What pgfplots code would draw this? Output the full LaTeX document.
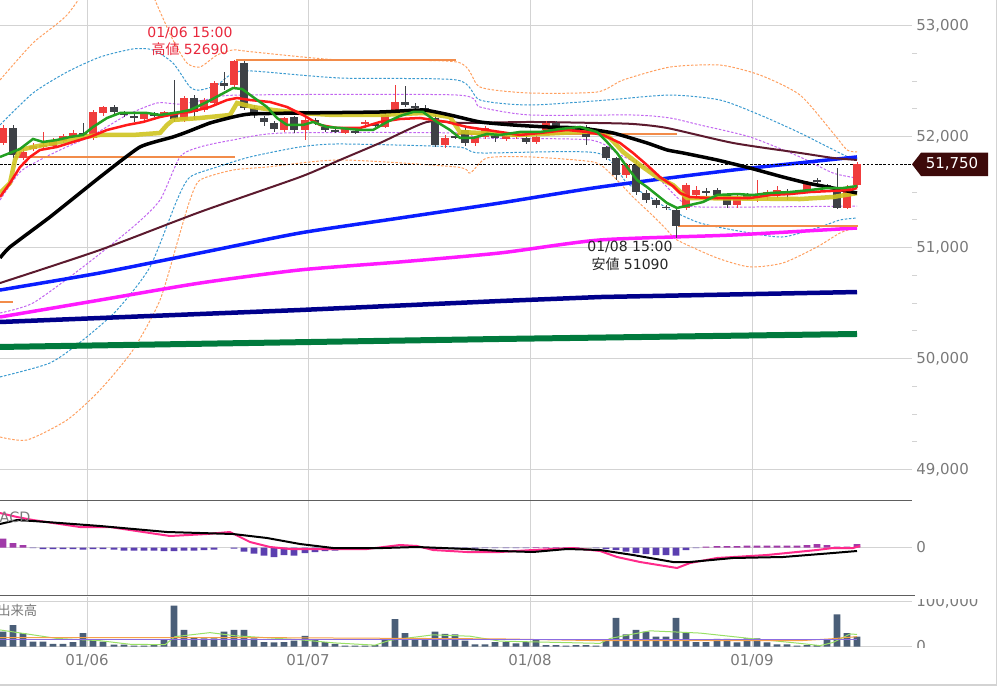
\documentclass[border=0pt]{standalone}
\usepackage{pgfplots}
\usepackage{pgfplotstable}
\pgfplotsset{compat=1.18}
\usepackage{fontspec}
\setmainfont{DejaVu Sans}
\newfontfamily\jp{Noto Sans CJK JP}

\definecolor{cup}{HTML}{F03C3C}
\definecolor{cdn}{HTML}{3E4146}
\definecolor{magrn}{HTML}{22A022}
\definecolor{mared}{HTML}{FF1A1A}
\definecolor{mayel}{HTML}{CFC420}
\definecolor{mamar}{HTML}{5C1A2E}
\definecolor{mablu}{HTML}{0A1EFF}
\definecolor{mamag}{HTML}{FF1AFF}
\definecolor{manav}{HTML}{00008B}
\definecolor{madkg}{HTML}{007A3D}
\definecolor{bbvio}{HTML}{C266F0}
\definecolor{bbblu}{HTML}{3A9AD0}
\definecolor{bbora}{HTML}{FFA060}
\definecolor{hlora}{HTML}{F28C4A}
\definecolor{macdp}{HTML}{FF2A8A}
\definecolor{histn}{HTML}{5B3FB0}
\definecolor{histp}{HTML}{A03AA8}
\definecolor{volc}{HTML}{4A5E78}
\definecolor{vgrn}{HTML}{99E066}
\definecolor{vora}{HTML}{F5A04A}
\definecolor{vpur}{HTML}{8C6CE0}
\definecolor{gridc}{HTML}{D3D3D3}
\definecolor{labc}{HTML}{7A7A7A}
\definecolor{sepc}{HTML}{5E5E5E}
\definecolor{boxc}{HTML}{3D0A0A}
\definecolor{annred}{HTML}{E8283C}

% candles: x, body top, body bottom, wick high, wick low
\pgfplotstableread{
x bt bb wh wl
3 52080 51940 52100 51920
23 51860 51810 51900 51790
33 51920 51890 51940 51870
43 51920 51910 52040 51880
53 51970 51920 51990 51910
63 52010 51960 52020 51940
73 52030 52010 52060 51990
93 52220 51990 52240 51970
103 52270 52210 52280 52190
144 52200 52160 52210 52140
164 52220 52190 52230 52180
184 52350 52150 52370 52130
204 52330 52240 52350 52220
214 52480 52300 52500 52290
234 52680 52460 52690 52450
284 52170 52060 52180 52040
305 52150 52060 52170 51970
345 52070 52030 52090 52020
365 52130 52110 52150 52080
385 52190 52090 52210 52080
395 52310 52220 52460 52210
445 51990 51920 52010 51900
475 52000 51940 52010 51920
485 52080 52000 52100 51980
506 52010 51980 52020 51960
516 52020 52000 52040 51980
536 52000 51950 52010 51930
546 52120 52060 52140 52040
626 51740 51650 51760 51630
686 51560 51360 51580 51340
696 51520 51470 51550 51450
737 51450 51380 51470 51360
757 51460 51450 51610 51410
767 51500 51470 51520 51430
777 51520 51490 51550 51450
807 51580 51520 51600 51500
847 51550 51360 51560 51350
857 51750 51560 51770 51540
}\up

\pgfplotstableread{
x bt bb wh wl
13 52080 51830 52100 51810
83 52030 52020 52120 51990
114 52270 52220 52280 52200
124 52220 52190 52230 52180
134 52190 52170 52200 52130
154 52210 52190 52220 52180
174 52220 52160 52510 52130
194 52350 52220 52370 52150
224 52480 52460 52580 52420
244 52660 52260 52680 52240
254 52260 52190 52280 52170
264 52170 52130 52190 52100
274 52120 52070 52140 52040
294 52180 52060 52190 52030
315 52150 52120 52170 52100
325 52090 52060 52100 52040
335 52060 52050 52080 52030
355 52050 52030 52060 52020
375 52110 52100 52120 52090
405 52310 52280 52460 52270
415 52280 52260 52300 52240
425 52260 52230 52280 52210
435 52170 51920 52190 51910
455 52010 51990 52010 51980
465 52060 51940 52080 51920
495 52010 51990 52030 51950
526 51990 51950 52010 51930
556 52120 52080 52140 52060
566 52090 52070 52100 52050
576 52070 52050 52080 52040
586 52090 52000 52100 51920
596 52040 52020 52050 52010
606 51910 51810 51920 51790
616 51810 51650 51820 51610
636 51740 51500 51790 51470
646 51490 51430 51520 51400
656 51430 51380 51450 51360
666 51370 51360 51380 51340
676 51340 51190 51360 51090
706 51510 51490 51540 51460
717 51520 51470 51540 51430
727 51470 51380 51490 51360
747 51470 51450 51490 51430
787 51510 51490 51530 51430
797 51510 51490 51520 51480
817 51610 51590 51630 51570
827 51560 51540 51570 51540
837 51500 51360 51720 51350
}\dn

\pgfplotstableread{
x v
3 90
13 45
23 25
365 5
375 5
385 5
395 10
405 10
415 5
536 5
546 5
556 5
566 5
576 5
706 10
717 15
727 15
737 15
747 20
757 20
767 20
777 20
787 20
797 20
807 25
817 35
827 25
837 10
847 10
857 35
}\histpos

\pgfplotstableread{
x v
33 -5
43 -15
53 -15
63 -15
73 -15
83 -20
93 -15
103 -15
114 -20
124 -30
134 -30
144 -30
154 -30
164 -35
174 -35
184 -30
194 -30
204 -25
214 -20
234 -10
244 -40
254 -60
264 -80
274 -95
284 -75
294 -80
305 -55
315 -45
325 -35
335 -30
345 -10
355 -5
425 -5
435 -10
445 -15
455 -15
465 -10
475 -10
485 -5
495 -5
506 -5
516 -5
526 -5
596 -5
606 -15
616 -25
626 -40
636 -55
646 -65
656 -75
666 -75
676 -80
686 -25
696 -5
}\histneg

\pgfplotstableread{
x v
3 33000
13 48000
23 30000
33 11000
43 11000
53 6000
63 6000
73 10000
83 30000
93 15000
103 11000
114 4000
124 4000
134 2000
144 2000
154 3000
164 15000
174 91000
184 37000
194 21000
204 18000
214 18000
224 33000
234 37000
244 37000
254 18000
264 10000
274 9000
284 10000
294 13000
305 24000
315 15000
325 10000
335 6000
345 2000
355 2000
365 2000
375 3000
385 15000
395 61000
405 30000
415 18000
425 18000
435 33000
445 28000
455 27000
465 13000
475 5000
485 5000
495 10000
506 10000
516 7000
526 10000
536 15000
546 3000
556 3000
566 2000
576 3000
586 3000
596 2000
606 13000
616 64000
626 27000
636 37000
646 33000
656 22000
666 22000
676 64000
686 30000
696 10000
706 10000
717 17000
727 17000
737 9000
747 18000
757 18000
767 9000
777 5000
787 5000
797 2000
807 3000
817 3000
827 15000
837 72000
847 30000
857 22000
}\vol

\pgfplotsset{
  panel/.style={
    scale only axis, width=547.2pt, xmin=0, xmax=912,
    axis line style={draw=none},
    scaled y ticks=false, scaled x ticks=false,
    xtick={87,308,530,752}, xticklabels={},
    xmajorgrids, ymajorgrids,
    grid style={draw=gridc, line width=0.6pt},
    major tick length=0pt,
    ytick pos=right, yticklabel pos=right,
    yticklabel style={anchor=west, inner sep=0pt, xshift=2.4pt,
      font=\fontsize{9}{10}\selectfont, text=labc},
    xticklabel style={anchor=north, inner sep=0pt, yshift=-4.5pt,
      font=\fontsize{9}{10}\selectfont, text=labc},
  },
  band/.style={line width=0.6pt, dash pattern=on 1.5pt off 1pt, smooth, tension=0.4},
  wick/.style={draw=none, no markers, error bars/.cd, y dir=both, y explicit,
    error mark=none, error bar style={draw=#1, line width=0.6pt}},
  body/.style={draw=none, no markers, error bars/.cd, y dir=both, y explicit,
    error mark=none, error bar style={draw=#1, line width=5pt, line cap=butt}},
}

\begin{document}
\begin{tikzpicture}
\useasboundingbox (0pt,0pt) rectangle (600pt,-412.2pt);

% ---------------- price panel ----------------
\begin{axis}[panel, at={(0pt,0pt)}, anchor=north west, height=300.42pt,
  ymin=48719, ymax=53230,
  ytick={49000,50000,51000,52000,53000},
  yticklabels={{49,000},{50,000},{51,000},{52,000},{53,000}},
  minor ytick={49250,49500,49750,50250,50500,50750,51250,51500,51750,52250,52500,52750},
  tick align=outside, minor tick length=3pt,
  minor tick style={draw=gridc, line width=0.6pt}]

% bollinger bands
\addplot[band, bbora] coordinates {(0,52509)(33,52843)(67,53095)(100,53500)(133,53725)(155,53230)(173,52870)(187,52662)(200,52626)(217,52734)(233,52780)(253,52762)(340,52689)(457,52671)(480,52446)(530,52392)(597,52401)(623,52509)(670,52626)(720,52644)(760,52554)(800,52374)(833,52032)(847,51879)(857,51861)};
\addplot[band, bbora] coordinates {(0,49293)(27,49266)(67,49446)(100,49716)(133,50077)(160,50527)(180,51131)(190,51428)(200,51608)(233,51698)(267,51725)(340,51789)(457,51725)(470,51671)(487,51807)(530,51816)(593,51771)(610,51671)(633,51455)(650,51311)(667,51158)(677,51068)(717,50906)(750,50825)(783,50861)(817,51005)(840,51131)(857,51185)};
\addplot[band, bbblu] coordinates {(0,52104)(33,52392)(67,52581)(100,52716)(133,52789)(153,52780)(173,52662)(190,52446)(200,52419)(217,52464)(233,52572)(253,52590)(340,52527)(457,52509)(480,52329)(530,52284)(607,52329)(670,52374)(720,52329)(760,52194)(800,52032)(850,51807)(857,51807)};
\addplot[band, bbblu] coordinates {(0,49834)(50,49960)(83,50167)(117,50437)(150,50825)(177,51428)(190,51635)(217,51725)(250,51816)(300,51906)(340,51933)(457,51906)(480,51852)(597,51852)(627,51581)(650,51455)(667,51356)(700,51221)(750,51131)(783,51095)(817,51176)(840,51248)(857,51266)};
\addplot[band, bbvio] coordinates {(0,51428)(20,51680)(40,51789)(60,51879)(93,52014)(127,52194)(157,52302)(180,52293)(210,52338)(240,52374)(457,52374)(480,52266)(530,52194)(633,52194)(670,52167)(700,52104)(750,51996)(800,51816)(833,51671)(857,51626)};
\addplot[band, bbvio] coordinates {(0,50410)(33,50500)(83,50825)(133,51185)(160,51428)(180,51816)(200,51906)(233,51969)(283,52032)(457,52032)(480,51987)(590,51969)(620,51834)(650,51698)(680,51428)(700,51365)(857,51374)};

% long moving averages
\addplot[madkg, line width=3.6pt] coordinates {(0,50104)(500,50176)(857,50221)};
\addplot[manav, line width=2.7pt] coordinates {(0,50329)(100,50365)(300,50437)(500,50518)(600,50554)(857,50599)};
\addplot[mamag, line width=2.1pt, smooth, tension=0.4] coordinates {(0,50374)(100,50527)(200,50680)(300,50798)(400,50870)(500,50951)(600,51068)(733,51113)(857,51176)};
\addplot[mablu, line width=2.1pt, smooth, tension=0.4] coordinates {(0,50617)(100,50771)(200,50951)(300,51131)(400,51266)(500,51401)(600,51545)(733,51698)(857,51816)};
\addplot[mamar, line width=1.2pt, smooth, tension=0.4] coordinates {(0,50680)(100,50978)(200,51320)(300,51635)(340,51789)(380,51942)(427,52131)(463,52122)(530,52131)(597,52122)(633,52113)(667,52077)(733,51942)(800,51852)(833,51807)(857,51789)};

% previous session high / low
\addplot[hlora, line width=1.2pt] coordinates {(0,50510)(13,50510)};
\addplot[hlora, line width=1.2pt] coordinates {(15,51820)(235,51820)};
\addplot[hlora, line width=1.2pt] coordinates {(236,52690)(456,52690)};
\addplot[hlora, line width=1.2pt] coordinates {(457,52020)(677,52020)};
\addplot[hlora, line width=1.2pt] coordinates {(678,51190)(858,51190)};

% last price
\addplot[black, line width=0.6pt, dash pattern=on 1.5pt off 1pt] coordinates {(0,51750)(912,51750)};

% candles: wicks then bodies
\addplot[wick=cup] table[x=x, y expr={(\thisrow{wh}+\thisrow{wl})/2}, y error expr={(\thisrow{wh}-\thisrow{wl})/2}] {\up};
\addplot[wick=cdn] table[x=x, y expr={(\thisrow{wh}+\thisrow{wl})/2}, y error expr={(\thisrow{wh}-\thisrow{wl})/2}] {\dn};
\addplot[body=cup] table[x=x, y expr={(\thisrow{bt}+\thisrow{bb})/2}, y error expr={(\thisrow{bt}-\thisrow{bb})/2}] {\up};
\addplot[body=cdn] table[x=x, y expr={(\thisrow{bt}+\thisrow{bb})/2}, y error expr={(\thisrow{bt}-\thisrow{bb})/2}] {\dn};

% short moving averages
\addplot[mayel, line width=2.7pt, opacity=0.9] coordinates {(0,51491)(10,51581)(15,51789)(20,51879)(33,51906)(60,51951)(83,51996)(100,52014)(133,52014)(160,52032)(167,52104)(173,52149)(200,52167)(230,52194)(237,52302)(253,52266)(273,52239)(300,52212)(333,52194)(380,52194)(423,52212)(450,52176)(460,52041)(520,52014)(560,52032)(597,52050)(610,51987)(623,51861)(640,51743)(657,51635)(673,51563)(687,51446)(800,51437)(833,51455)(857,51490)};
\addplot[black, line width=2.1pt, smooth, tension=0.3] coordinates {(0,50906)(10,51005)(50,51275)(100,51635)(140,51906)(173,51996)(187,52041)(210,52122)(233,52176)(250,52203)(300,52212)(380,52221)(423,52239)(450,52194)(480,52131)(513,52104)(547,52086)(580,52077)(613,52032)(647,51942)(667,51879)(683,51852)(717,51789)(750,51716)(783,51635)(807,51581)(833,51536)(857,51491)};
\addplot[mared, line width=1.5pt] coordinates {(0,51455)(10,51581)(20,51725)(30,51816)(40,51879)(57,51906)(73,51951)(90,51996)(107,52059)(127,52104)(143,52131)(160,52176)(180,52212)(190,52221)(210,52266)(227,52329)(237,52347)(250,52329)(270,52311)(287,52266)(303,52194)(320,52104)(337,52077)(360,52077)(380,52131)(400,52158)(420,52167)(433,52149)(447,52131)(467,52086)(487,52059)(520,52014)(540,52032)(567,52059)(587,52041)(603,52014)(620,51942)(633,51852)(647,51743)(660,51635)(673,51554)(680,51491)(690,51455)(710,51446)(750,51446)(770,51473)(790,51482)(810,51500)(830,51509)(850,51518)(857,51536)};
\addplot[magrn, line width=1.5pt] coordinates {(0,51816)(20,51888)(33,51978)(43,51951)(57,51969)(70,51996)(83,52014)(93,52086)(107,52167)(120,52212)(147,52212)(160,52194)(180,52221)(190,52239)(207,52311)(220,52374)(233,52437)(242,52428)(253,52356)(267,52266)(277,52167)(287,52104)(303,52104)(313,52131)(327,52086)(340,52077)(360,52059)(373,52059)(387,52131)(400,52185)(413,52221)(423,52221)(437,52131)(450,52059)(460,51987)(473,51987)(487,52023)(500,52014)(520,52041)(540,52041)(560,52068)(580,52086)(597,52041)(607,51951)(617,51852)(627,51725)(637,51608)(647,51545)(657,51473)(667,51401)(677,51356)(690,51383)(703,51410)(717,51473)(737,51482)(753,51473)(770,51491)(790,51500)(810,51518)(827,51536)(843,51536)(857,51554)};

% high / low annotations
\node[text=annred, font=\fontsize{8.4}{9}\selectfont, inner sep=0pt] at (axis cs:190,52933) {01/06 15:00};
\node[text=annred, font=\fontsize{8.4}{9}\selectfont, inner sep=0pt] at (axis cs:190,52789) {{\jp 高値} 52690};
\node[text=black!85, font=\fontsize{8.4}{9}\selectfont, inner sep=0pt] at (axis cs:630,51005) {01/08 15:00};
\node[text=black!85, font=\fontsize{8.4}{9}\selectfont, inner sep=0pt] at (axis cs:630,50852) {{\jp 安値} 51090};
\end{axis}

% ---------------- MACD panel ----------------
\begin{axis}[panel, at={(0pt,-300.6pt)}, anchor=north west, height=56.64pt,
  ymin=-479, ymax=465, ytick={0}, yticklabels={0}]
\addplot[ybar, bar shift=0pt, bar width=4pt, fill=histp, draw=none] table[x=x, y=v] {\histpos};
\addplot[ybar, bar shift=0pt, bar width=4pt, fill=histn, draw=none] table[x=x, y=v] {\histneg};
\addplot[macdp, line width=1.2pt] coordinates {(0,345)(17,305)(33,275)(80,205)(110,205)(170,115)(207,135)(230,155)(250,55)(270,5)(290,-15)(367,-15)(400,25)(417,15)(433,-25)(467,-45)(500,-45)(533,-25)(573,-5)(600,-35)(617,-95)(640,-145)(677,-205)(690,-155)(717,-105)(767,-75)(817,-25)(833,-5)(853,-5)(860,15)};
\addplot[black, line width=1.2pt] coordinates {(0,235)(17,275)(33,265)(100,215)(167,155)(233,135)(267,95)(300,35)(333,-5)(383,-5)(417,5)(467,-15)(500,-35)(533,-45)(567,-15)(600,-25)(633,-75)(673,-145)(690,-145)(733,-105)(783,-95)(833,-55)(857,-35)};
\end{axis}

% ---------------- volume panel ----------------
\begin{axis}[panel, at={(0pt,-358.2pt)}, anchor=north west, height=30pt,
  ymin=-1100, ymax=110500, ytick={0,100000}, yticklabels={0,{100,000}},
  xticklabels={01/06,01/07,01/08,01/09}]
\addplot[ybar, bar shift=0pt, bar width=4pt, fill=volc, draw=none] table[x=x, y=v] {\vol};
\addplot[vgrn, line width=0.6pt] coordinates {(0,37000)(57,18000)(100,13000)(130,5000)(165,4000)(175,22000)(210,31000)(235,24000)(300,15000)(335,8000)(375,3000)(390,14000)(433,26000)(470,23000)(500,12000)(600,7000)(610,18000)(650,35000)(700,30000)(750,18000)(800,7000)(820,2000)(833,9000)(850,28000)(857,27000)};
\addplot[vora, line width=0.6pt] coordinates {(0,20000)(250,20000)(500,17000)(600,13000)(800,13000)(830,17000)(857,22000)};
\addplot[vpur, line width=0.6pt] coordinates {(0,16000)(857,16000)};
\end{axis}

\begin{scope}[x=0.6pt, y=-0.6pt]
% cut labels of the volume panel
\fill[white] (913,586) rectangle (999,598.5);
\fill[white] (913,647.5) rectangle (999,658);
% panel separators
\draw[sepc, line width=0.9pt] (0,500.7) -- (912,500.7);
\draw[sepc, line width=0.9pt] (0,595.4) -- (915,595.4);
% last price tag
\fill[boxc] (912,164.3) -- (921,152.7) -- (988,152.7) -- (988,176) -- (921,176) -- cycle;
\node[text=white, font=\fontsize{9}{10}\selectfont, inner sep=0pt] at (952,164.3) {51,750};
% panel titles (cut by the left edge, as in the original)
\node[anchor=west, text=labc, font=\fontsize{8.6}{9}\selectfont, inner sep=0pt] at (-13,517) {MACD};
\node[anchor=west, text=labc, font=\jp\fontsize{8}{9}\selectfont, inner sep=0pt] at (-3,610) {出来高};
% frame
\draw[gridc, line width=0.8pt] (996.7,0) -- (996.7,685) -- (0,685);
\end{scope}
\end{tikzpicture}
\end{document}
